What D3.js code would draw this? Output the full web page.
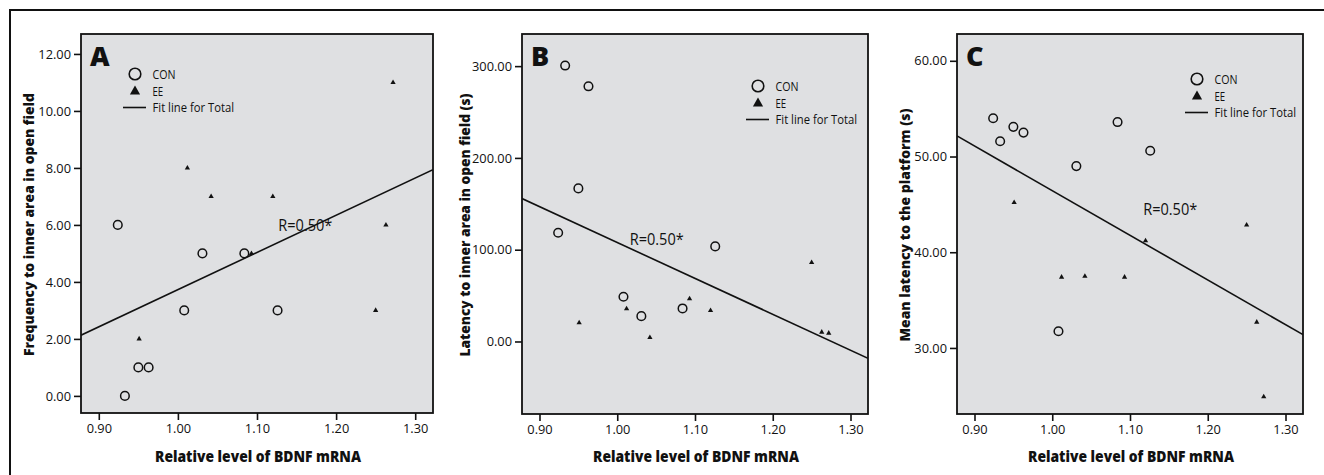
<!DOCTYPE html>
<html>
<head>
<meta charset="utf-8">
<script src="https://cdn.jsdelivr.net/npm/d3@7"></script>
<style>
  html, body { margin: 0; padding: 0; background: #fff; }
  svg { display: block; }
  text { font-family: "Open Sans", "DejaVu Sans", sans-serif; fill: #111; }
</style>
</head>
<body>
<svg id="chart" width="1324" height="475"></svg>
<script>
// BDNF mRNA level per animal (x), shared by the three panels
const conBdnf = [0.924, 0.933, 0.950, 0.963, 1.008, 1.031, 1.084, 1.126];
const eeBdnf  = [0.951, 1.012, 1.042, 1.093, 1.120, 1.250, 1.263, 1.272];

// Panel A: frequency to inner area in open field
const conFrequency = [6, 0, 1, 1, 3, 5, 5, 3];
const eeFrequency  = [2, 8, 7, 5, 7, 3, 6, 11];

// Panel B: latency to inner area in open field (s)
const conLatencyOF = [118.5, 300.6, 166.8, 278.0, 48.7, 27.6, 36.0, 103.6];
const eeLatencyOF  = [20.4, 35.6, 4.4, 46.5, 33.8, 86.0, 10.2, 9.1];

// Panel C: mean latency to the platform (s)
const conLatencyMWM = [54.0, 51.6, 53.1, 52.5, 31.75, 49.0, 53.6, 50.6];
const eeLatencyMWM  = [45.2, 37.4, 37.5, 37.4, 41.2, 42.85, 32.7, 24.9];

const xTicks = [0.90, 1.00, 1.10, 1.20, 1.30];
const yTicksA = [0, 2, 4, 6, 8, 10, 12];
const yTicksB = [0, 100, 200, 300];
const yTicksC = [30, 40, 50, 60];

const panelLetters = ["A", "B", "C"];
const yTitles = [
  "Frequency to inner area in open field",
  "Latency to inner area in open field (s)",
  "Mean latency to  the platform (s)"
];
const xTitle = "Relative level of BDNF mRNA";
const legendLabels = ["CON", "EE", "Fit line for Total"];
const rLabels = ["R=0.50*", "R=0.50*", "R=0.50*"];

const svg = d3.select("#chart");

// outer frame (top and left rules)
svg.append("line").attr("x1", 10).attr("x2", 1324).attr("y1", 10).attr("y2", 10)
  .attr("stroke", "#111").attr("stroke-width", 2);
svg.append("line").attr("x1", 10).attr("x2", 10).attr("y1", 9).attr("y2", 475)
  .attr("stroke", "#111").attr("stroke-width", 2);

const panels = [
  { left: 81,  right: 433,  top: 34, bottom: 413, yDomain: [-0.6, 12.7], yTicks: yTicksA,
    con: conFrequency, ee: eeFrequency, yTitleX: 29, yTitleLen: 263,
    legend: { x: 54, y: 40 }, rPos: { x: 1.127, y: 5.98 } },
  { left: 522, right: 868,  top: 34, bottom: 414, yDomain: [-79, 335], yTicks: yTicksB,
    con: conLatencyOF, ee: eeLatencyOF, yTitleX: 465, yTitleLen: 263,
    legend: { x: 236, y: 52 }, rPos: { x: 1.016, y: 111 } },
  { left: 957, right: 1303, top: 34, bottom: 414, yDomain: [23.1, 62.8], yTicks: yTicksC,
    con: conLatencyMWM, ee: eeLatencyMWM, yTitleX: 905, yTitleLen: 233,
    legend: { x: 240, y: 45 }, rPos: { x: 1.117, y: 44.5 } }
];

// least-squares fit over both groups
function fitLine(xs, ys) {
  const n = xs.length;
  const mx = d3.mean(xs), my = d3.mean(ys);
  let sxy = 0, sxx = 0;
  for (let i = 0; i < n; i++) {
    sxy += (xs[i] - mx) * (ys[i] - my);
    sxx += (xs[i] - mx) * (xs[i] - mx);
  }
  const slope = sxy / sxx;
  return { slope, intercept: my - slope * mx };
}

const triangle = d3.symbol().type(d3.symbolTriangle);

panels.forEach((p, i) => {
  const x = d3.scaleLinear().domain([0.8775, 1.3225]).range([p.left, p.right]);
  const y = d3.scaleLinear().domain(p.yDomain).range([p.bottom, p.top]);
  const g = svg.append("g");
  const clipId = "clip" + i;

  g.append("clipPath").attr("id", clipId).append("rect")
    .attr("x", p.left).attr("y", p.top)
    .attr("width", p.right - p.left).attr("height", p.bottom - p.top);

  // plot area
  g.append("rect")
    .attr("x", p.left).attr("y", p.top)
    .attr("width", p.right - p.left).attr("height", p.bottom - p.top)
    .attr("fill", "#dfe0e2");

  // axes
  const xAxis = d3.axisBottom(x).tickValues(xTicks).tickFormat(d3.format(".2f"))
    .tickSize(7).tickPadding(4);
  const gx = g.append("g").attr("transform", `translate(0,${p.bottom})`).call(xAxis);
  const yAxis = d3.axisLeft(y).tickValues(p.yTicks).tickFormat(d3.format(".2f"))
    .tickSize(7).tickPadding(3);
  const gy = g.append("g").attr("transform", `translate(${p.left},0)`).call(yAxis);
  [gx, gy].forEach(ax => {
    ax.select(".domain").remove();
    ax.selectAll(".tick line").attr("stroke", "#111").attr("stroke-width", 1.6);
    ax.selectAll(".tick text").attr("font-family", '"Open Sans", sans-serif')
      .attr("font-size", 12.8).attr("fill", "#111");
  });

  // frame of plot area
  g.append("rect")
    .attr("x", p.left).attr("y", p.top)
    .attr("width", p.right - p.left).attr("height", p.bottom - p.top)
    .attr("fill", "none").attr("stroke", "#111").attr("stroke-width", 1.8);

  // fit line for total
  const xsAll = conBdnf.concat(eeBdnf);
  const ysAll = p.con.concat(p.ee);
  const f = fitLine(xsAll, ysAll);
  const xd = x.domain();
  g.append("line")
    .attr("clip-path", `url(#${clipId})`)
    .attr("x1", x(xd[0])).attr("y1", y(f.intercept + f.slope * xd[0]))
    .attr("x2", x(xd[1])).attr("y2", y(f.intercept + f.slope * xd[1]))
    .attr("stroke", "#111").attr("stroke-width", 1.6);

  // CON: open circles
  g.selectAll(".con").data(conBdnf.map((v, k) => [v, p.con[k]])).join("circle")
    .attr("cx", d => x(d[0])).attr("cy", d => y(d[1])).attr("r", 4.3)
    .attr("fill", "none").attr("stroke", "#111").attr("stroke-width", 1.5);

  // EE: filled triangles
  g.selectAll(".ee").data(eeBdnf.map((v, k) => [v, p.ee[k]])).join("path")
    .attr("d", triangle.size(12))
    .attr("transform", d => `translate(${x(d[0])},${y(d[1])})`)
    .attr("fill", "#111");

  // panel letter
  g.append("text").attr("x", p.left + 9).attr("y", p.top + 31.5)
    .attr("font-size", 27).attr("font-weight", 800).attr("fill", "#000")
    .text(panelLetters[i]);

  // legend
  const lg = g.append("g").attr("transform", `translate(${p.left + p.legend.x},${p.top + p.legend.y})`);
  lg.append("circle").attr("cx", 0).attr("cy", 0).attr("r", 5.8)
    .attr("fill", "none").attr("stroke", "#111").attr("stroke-width", 1.6);
  lg.append("path").attr("d", triangle.size(45))
    .attr("transform", "translate(0,17.5)").attr("fill", "#111");
  lg.append("line").attr("x1", -12).attr("x2", 11).attr("y1", 33.5).attr("y2", 33.5)
    .attr("stroke", "#111").attr("stroke-width", 1.6);
  const legendY = [0, 17, 33.5];
  const legendW = [23, 10.7, 81.5];
  legendLabels.forEach((t, k) => {
    lg.append("text").attr("x", 17.5).attr("y", legendY[k]).attr("dy", "0.35em")
      .attr("font-size", 13).attr("fill", "#111")
      .attr("textLength", legendW[k]).attr("lengthAdjust", "spacingAndGlyphs")
      .text(t);
  });

  // correlation label
  g.append("text").attr("x", x(p.rPos.x)).attr("y", y(p.rPos.y)).attr("dy", "0.35em")
    .attr("font-size", 16).attr("fill", "#111")
    .attr("textLength", 54).attr("lengthAdjust", "spacingAndGlyphs")
    .text(rLabels[i]);

  // axis titles
  g.append("text").attr("x", (p.left + p.right) / 2 + 1).attr("y", 461.5)
    .attr("text-anchor", "middle").attr("font-size", 15.5).attr("font-weight", 800)
    .attr("fill", "#000")
    .attr("textLength", 206).attr("lengthAdjust", "spacingAndGlyphs")
    .text(xTitle);
  g.append("text")
    .attr("transform", `translate(${p.yTitleX + 5},${(p.top + p.bottom) / 2 + 1}) rotate(-90)`)
    .attr("text-anchor", "middle").attr("font-size", 14.8).attr("font-weight", 800)
    .attr("fill", "#000")
    .attr("textLength", p.yTitleLen).attr("lengthAdjust", "spacingAndGlyphs")
    .text(yTitles[i]);
});
</script>
</body>
</html>
